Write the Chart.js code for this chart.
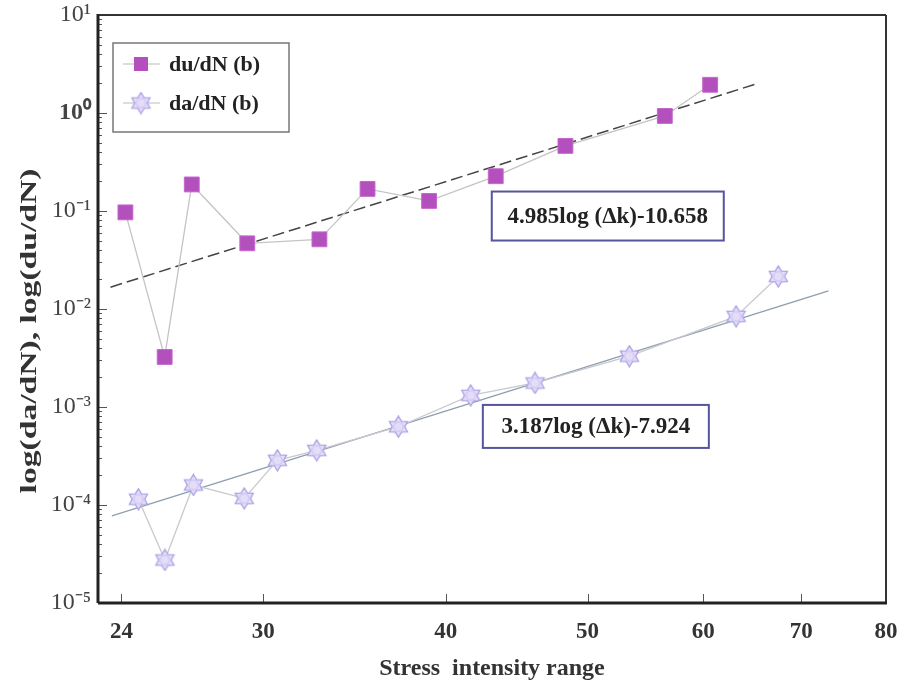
<!DOCTYPE html>
<html>
<head>
<meta charset="utf-8">
<script src="https://cdn.jsdelivr.net/npm/chart.js@4.4.1/dist/chart.umd.min.js"></script>
<style>
  html, body { margin: 0; padding: 0; background: #fff; }
  #caixa { width: 901px; height: 690px; }
</style>
</head>
<body>
<div id="caixa"><canvas id="grafico" width="901" height="690"></canvas></div>
<script>
// du/dN (b) - quadrados
const duX = [24.15, 25.69, 26.81, 29.26, 32.78, 35.36, 38.96, 43.27, 48.29, 56.47, 60.65];
const duY = [0.0968, 0.00324, 0.1866, 0.0468, 0.0514, 0.168, 0.1267, 0.2265, 0.4615, 0.933, 1.94];
// da/dN (b) - estrelas
const daX = [24.65, 25.70, 26.88, 29.12, 30.68, 32.64, 37.12, 41.60, 46.03, 53.41, 63.18, 67.52];
const daY = [1.146e-4, 2.75e-5, 1.60e-4, 1.17e-4, 2.86e-4, 3.61e-4, 6.29e-4, 1.315e-3, 1.76e-3, 3.30e-3, 8.41e-3, 0.0215];
// retas ajustadas (extremos)
const ajusteDuX = [23.59, 65.27];
const ajusteDuY = [0.0167, 1.987];
const ajusteDaX = [23.64, 73.07];
const ajusteDaY = [7.76e-5, 0.0153];

const xTicks = [24, 30, 40, 50, 60, 70, 80];
const yTicks = [1e-5, 1e-4, 1e-3, 1e-2, 1e-1, 1, 10];
const yRotulos = ["10\u207B\u2075", "10\u207B\u2074", "10\u207B\u00B3", "10\u207B\u00B2", "10\u207B\u00B9", "10\u2070", "10\u00B9"];
const nomesSeries = ["du/dN (b)", "da/dN (b)"];
const equacoes = ["4.985log (\u0394k)-10.658", "3.187log (\u0394k)-7.924"];
const tituloY = "log(da/dN), log(du/dN)";

const pares = (xs, ys) => xs.map((v, i) => ({ x: v, y: ys[i] }));

// estrela de seis pontas para os pontos de da/dN
function criarEstrela(tam) {
  const c = document.createElement("canvas");
  c.width = tam; c.height = tam;
  const g = c.getContext("2d");
  const m = tam / 2, r1 = m - 1, r2 = r1 * 0.6;
  g.beginPath();
  for (let i = 0; i < 12; i++) {
    const a = -Math.PI / 2 + i * Math.PI / 6;
    const r = i % 2 ? r2 : r1;
    g.lineTo(m + r * Math.cos(a), m + r * Math.sin(a));
  }
  g.closePath();
  g.fillStyle = "#e4dcf9";
  g.fill();
  g.strokeStyle = "#aaa2e4";
  g.lineWidth = 1.3;
  g.stroke();
  g.beginPath();
  g.arc(m, m, r2 * 0.75, 0, Math.PI * 2);
  g.strokeStyle = "rgba(167,158,226,0.55)";
  g.lineWidth = 0.8;
  g.stroke();
  return c;
}
const estrela = criarEstrela(23);
const corQuadrado = "#b44fbe";

// posições das caixas das equações (em valores dos eixos)
const caixasEq = [
  { x: 43.0, y: 0.158, w: 232, h: 49 },
  { x: 42.4, y: 1.05e-3, w: 226, h: 43 }
];

// sem folga extra das escalas: área do gráfico fica fixa
function semFolga(s) {
  s.paddingTop = 0; s.paddingBottom = 0; s.paddingLeft = 0; s.paddingRight = 0;
}

const molduraPlugin = {
  id: "moldura",
  afterDraw(chart) {
    const { ctx, chartArea: a, scales: { x, y } } = chart;
    ctx.save();
    const linha = (x1, y1, x2, y2) => { ctx.beginPath(); ctx.moveTo(x1, y1); ctx.lineTo(x2, y2); ctx.stroke(); };

    // marcas dos eixos (para dentro)
    ctx.strokeStyle = "#555";
    ctx.lineWidth = 1;
    xTicks.forEach(v => {
      const px = Math.round(x.getPixelForValue(v)) + 0.5;
      linha(px, a.bottom, px, a.bottom - 9);
    });
    yTicks.forEach((v, i) => {
      const py = Math.round(y.getPixelForValue(v)) + 0.5;
      linha(a.left, py, a.left + 9, py);
      if (i < yTicks.length - 1) {
        for (let k = 2; k <= 9; k++) {
          const pm = Math.round(y.getPixelForValue(v * k)) + 0.5;
          linha(a.left, pm, a.left + 4, pm);
        }
      }
    });

    // moldura
    ctx.strokeStyle = "#333";
    ctx.lineWidth = 2;
    linha(a.left, a.top, a.right, a.top);
    linha(a.right, a.top, a.right, a.bottom);
    ctx.strokeStyle = "#222";
    ctx.lineWidth = 3;
    linha(a.left, a.top - 1, a.left, a.bottom);
    linha(a.left, a.bottom, a.right + 1, a.bottom);

    // título do eixo y (esticado no comprimento, como no original)
    ctx.save();
    ctx.translate(30, (a.top + a.bottom) / 2 + 22);
    ctx.rotate(-Math.PI / 2);
    ctx.scale(1.4, 1);
    ctx.font = "bold 24px 'Liberation Serif'";
    ctx.fillStyle = "#333";
    ctx.textAlign = "center";
    ctx.textBaseline = "middle";
    ctx.fillText(tituloY, 0, 0);
    ctx.restore();

    // legenda
    const lx = a.left + 15, ly = a.top + 28;
    ctx.fillStyle = "#fff";
    ctx.fillRect(lx, ly, 176, 89);
    ctx.strokeStyle = "#777";
    ctx.lineWidth = 1.5;
    ctx.strokeRect(lx, ly, 176, 89);
    ctx.font = "bold 22px 'Liberation Serif'";
    ctx.textBaseline = "middle";
    [0, 1].forEach(i => {
      const yy = ly + 21 + i * 39;
      ctx.strokeStyle = "#bbb";
      ctx.lineWidth = 1;
      linha(lx + 10, yy, lx + 47, yy);
      if (i === 0) {
        ctx.fillStyle = corQuadrado;
        ctx.fillRect(lx + 21, yy - 7, 14, 14);
      } else {
        ctx.drawImage(estrela, lx + 28 - 11.5, yy - 11.5);
      }
      ctx.fillStyle = "#222";
      ctx.fillText(nomesSeries[i], lx + 56, yy + 1);
    });

    // caixas das equações
    ctx.font = "bold 23px 'Liberation Serif'";
    ctx.textAlign = "center";
    caixasEq.forEach((c, i) => {
      const bx = x.getPixelForValue(c.x), by = y.getPixelForValue(c.y);
      ctx.fillStyle = "#fff";
      ctx.fillRect(bx, by, c.w, c.h);
      ctx.strokeStyle = "#55559e";
      ctx.lineWidth = 2;
      ctx.strokeRect(bx, by, c.w, c.h);
      ctx.fillStyle = "#222";
      ctx.fillText(equacoes[i], bx + c.w / 2, by + c.h / 2 + 1);
    });
    ctx.restore();
  }
};

const ctx = document.getElementById("grafico").getContext("2d");
new Chart(ctx, {
  type: "line",
  data: {
    datasets: [
      {
        label: nomesSeries[0],
        data: pares(duX, duY),
        borderColor: "#c4c4c4",
        borderWidth: 1.3,
        pointStyle: "rect",
        pointRadius: 10.5,
        pointBackgroundColor: corQuadrado,
        pointBorderColor: "#c468cc",
        pointBorderWidth: 1,
        tension: 0
      },
      {
        label: nomesSeries[1],
        data: pares(daX, daY),
        borderColor: "#c8c8d0",
        borderWidth: 1.3,
        pointStyle: estrela,
        pointRadius: 11,
        tension: 0
      },
      {
        label: "ajuste du/dN",
        data: pares(ajusteDuX, ajusteDuY),
        borderColor: "#444",
        borderWidth: 1.5,
        borderDash: [12, 5],
        pointRadius: 0
      },
      {
        label: "ajuste da/dN",
        data: pares(ajusteDaX, ajusteDaY),
        borderColor: "#8e9fae",
        borderWidth: 1.4,
        pointRadius: 0
      }
    ]
  },
  options: {
    responsive: false,
    animation: false,
    layout: { autoPadding: false, padding: { top: 15, right: 15, left: 0, bottom: 0 } },
    plugins: { legend: { display: false }, tooltip: { enabled: false } },
    scales: {
      x: {
        type: "logarithmic",
        min: 23.13,
        max: 80,
        afterBuildTicks: s => { s.ticks = xTicks.map(v => ({ value: v })); },
        afterFit: s => { s.height = 87; semFolga(s); },
        grid: { display: false, drawTicks: false },
        border: { display: false },
        ticks: {
          autoSkip: false,
          maxRotation: 0,
          padding: 15,
          color: "#333",
          font: { family: "'Liberation Serif'", size: 23, weight: "bold" },
          callback: v => String(v)
        },
        title: {
          display: true,
          text: "Stress  intensity range",
          color: "#333",
          padding: { top: 0, bottom: 7 },
          font: { family: "'Liberation Serif'", size: 24, weight: "bold" }
        }
      },
      y: {
        type: "logarithmic",
        min: 1e-5,
        max: 10,
        afterBuildTicks: s => { s.ticks = yTicks.map(v => ({ value: v })); },
        afterFit: s => { s.width = 98; semFolga(s); },
        grid: { display: false, drawTicks: false },
        border: { display: false },
        ticks: {
          autoSkip: false,
          padding: 7,
          color: "#444",
          font: c => ({
            family: "'Liberation Serif'",
            size: 24,
            weight: c.tick && c.tick.value === 1 ? "bold" : "normal"
          }),
          callback: v => yRotulos[yTicks.indexOf(v)]
        },
        title: { display: false }
      }
    }
  },
  plugins: [molduraPlugin]
});
</script>
</body>
</html>
